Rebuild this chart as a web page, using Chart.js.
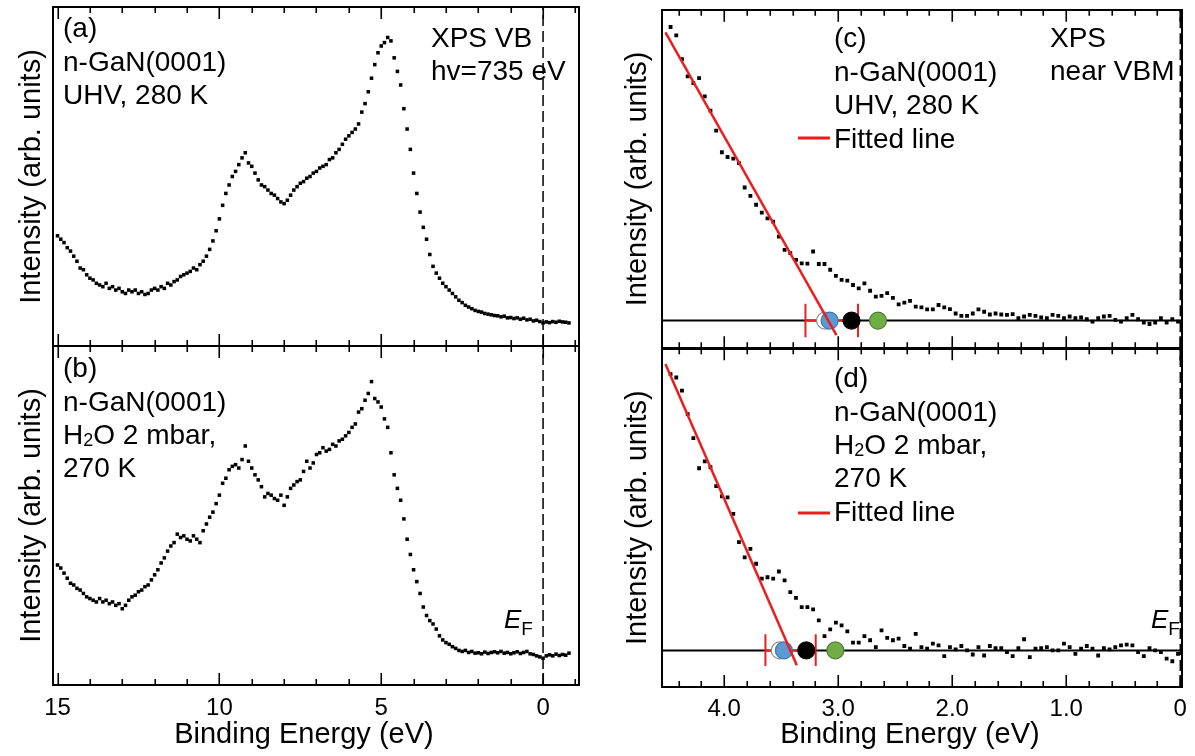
<!DOCTYPE html>
<html>
<head>
<meta charset="utf-8">
<script src="https://cdn.jsdelivr.net/npm/chart.js@4.4.1/dist/chart.umd.min.js"></script>
<style>
  html, body { margin: 0; padding: 0; background: #fff; }
  #wrap { position: relative; width: 1195px; height: 756px; overflow: hidden; }
  canvas { position: absolute; top: 0; }
  #left { left: 0; }
  #right { left: 600px; }
</style>
</head>
<body>
<div id="wrap">
  <canvas id="left" width="600" height="756"></canvas>
  <canvas id="right" width="595" height="756"></canvas>
</div>
<script>
// ---- wide valence band scans, panels (a) and (b) ----
const energyWide = [
  15.0, 14.9, 14.8, 14.7, 14.6, 14.5, 14.4, 14.3, 14.2, 14.1,
  14.0, 13.9, 13.8, 13.7, 13.6, 13.5, 13.4, 13.3, 13.2, 13.1,
  13.0, 12.9, 12.8, 12.7, 12.6, 12.5, 12.4, 12.3, 12.2, 12.1,
  12.0, 11.9, 11.8, 11.7, 11.6, 11.5, 11.4, 11.3, 11.2, 11.1,
  11.0, 10.9, 10.8, 10.7, 10.6, 10.5, 10.4, 10.3, 10.2, 10.1,
  10.0, 9.9, 9.8, 9.7, 9.6, 9.5, 9.4, 9.3, 9.2, 9.1,
  9.0, 8.9, 8.8, 8.7, 8.6, 8.5, 8.4, 8.3, 8.2, 8.1,
  8.0, 7.9, 7.8, 7.7, 7.6, 7.5, 7.4, 7.3, 7.2, 7.1,
  7.0, 6.9, 6.8, 6.7, 6.6, 6.5, 6.4, 6.3, 6.2, 6.1,
  6.0, 5.9, 5.8, 5.7, 5.6, 5.5, 5.4, 5.3, 5.2, 5.1,
  5.0, 4.9, 4.8, 4.7, 4.6, 4.5, 4.4, 4.3, 4.2, 4.1,
  4.0, 3.9, 3.8, 3.7, 3.6, 3.5, 3.4, 3.3, 3.2, 3.1,
  3.0, 2.9, 2.8, 2.7, 2.6, 2.5, 2.4, 2.3, 2.2, 2.1,
  2.0, 1.9, 1.8, 1.7, 1.6, 1.5, 1.4, 1.3, 1.2, 1.1,
  1.0, 0.9, 0.8, 0.7, 0.6, 0.5, 0.4, 0.3, 0.2, 0.1,
  0.0, -0.1, -0.2, -0.3, -0.4, -0.5, -0.6, -0.7, -0.8
];
const intensityUHV = [
  32.5, 31.5, 30.5, 29, 28, 26.5, 25, 23, 22.5, 21,
  20, 19.5, 18.5, 18, 17.5, 18.5, 17, 17.5, 16.5, 17,
  16, 15.5, 16.5, 16, 16.5, 15.5, 16, 15.2, 15.5, 16.5,
  17, 16.5, 17.5, 17, 18.5, 18, 19, 19.5, 20.5, 21,
  21.5, 22, 23, 22.5, 24, 25, 26.5, 28.5, 31, 34,
  37.5, 41.5, 45, 47.5, 50, 51.5, 53.5, 55.5, 57, 54,
  53, 51, 49, 47.5, 47, 46, 45, 44.5, 43.5, 42.5,
  42, 43, 44.5, 46, 47, 48, 48.5, 49.5, 50, 51,
  51.5, 52.5, 53, 53.5, 55, 55.5, 57, 58, 59.5, 61,
  62, 63, 64, 65.5, 69, 71.5, 75, 79, 83, 86.5,
  88.5, 89.5, 91, 90, 85, 81, 77, 70, 64, 58,
  51, 45, 39.5, 35, 31.5, 27, 23.5, 21.5, 20, 18.5,
  17.5, 16.5, 15.5, 14.5, 13.5, 12.8, 12, 11.5, 11, 10.5,
  10.2, 10, 9.6, 9.4, 9.2, 9, 8.9, 8.6, 8.8, 8.3,
  8.4, 8.1, 8.3, 7.9, 8.2, 7.7, 7.9, 7.4, 7.6, 7.2,
  6.8, 7.1, 6.9, 7.2, 7.0, 7.3, 7.1, 7.0, 6.8
];
const intensityH2O = [
  35.4, 34.5, 33, 31.5, 30, 29.5, 28.5, 28, 27, 26,
  25.5, 25, 24.5, 25.5, 24.5, 25, 24, 24.5, 23.5, 24,
  22.5, 23.5, 25, 26, 26.5, 27.5, 28, 29, 29.5, 31,
  32.5, 34, 36, 37.5, 39.5, 41, 42, 44.5, 43.5, 44,
  43, 42.5, 44, 43, 42, 45.5, 47.5, 49.5, 51, 53.5,
  56, 59.5, 61, 63.5, 64.5, 65, 64, 66.5, 70.5, 66,
  64, 62, 60.5, 58.5, 55.5, 56.5, 56, 55, 54.5, 56,
  53, 55.5, 58, 59, 60, 60.5, 63, 66, 64, 65.5,
  68, 68.5, 70, 69, 69.5, 71, 70.5, 72, 72.5, 73.5,
  74.5, 76, 77, 80.5, 81.5, 84, 86, 89.5, 84.5, 83.5,
  82, 78.5, 76, 68.5, 62, 58, 54.5, 49, 43, 38.5,
  34, 30.5, 27, 23, 20.5, 19, 18, 16.5, 14.5, 13.3,
  12.5, 12, 11.3, 10.8, 10.2, 9.9, 10.2, 9.6, 9.9, 9.4,
  9.5, 9.2, 9.7, 9.3, 9.6, 9.8, 9.5, 9.9, 9.4, 9.6,
  9.2, 9.5, 9.8, 9.3, 9.6, 9.9, 9.2, 9.0, 8.6, 8.3,
  7.9, 8.6, 8.9, 8.6, 9.1, 8.7, 9.0, 8.8, 9.4
];

// ---- near-VBM scans, panels (c) and (d) ----
const energyNear = [
  4.47, 4.42, 4.37, 4.32, 4.27, 4.22, 4.17, 4.12, 4.07, 4.02,
  3.97, 3.92, 3.87, 3.82, 3.77, 3.72, 3.67, 3.62, 3.57, 3.52,
  3.47, 3.42, 3.37, 3.32, 3.27, 3.22, 3.17, 3.12, 3.07, 3.02,
  2.97, 2.92, 2.87, 2.82, 2.77, 2.72, 2.67, 2.62, 2.57, 2.52,
  2.47, 2.42, 2.37, 2.32, 2.27, 2.22, 2.17, 2.12, 2.07, 2.02,
  1.97, 1.92, 1.87, 1.82, 1.77, 1.72, 1.67, 1.62, 1.57, 1.52,
  1.47, 1.42, 1.37, 1.32, 1.27, 1.22, 1.17, 1.12, 1.07, 1.02,
  0.97, 0.92, 0.87, 0.82, 0.77, 0.72, 0.67, 0.62, 0.57, 0.52,
  0.47, 0.42, 0.37, 0.32, 0.27, 0.22, 0.17, 0.12, 0.07, 0.02
];
const nearUHV = [
  94.9, 92.4, 85.4, 80.3, 78.3, 79.8, 74.4, 70.2, 64.3, 57.9,
  56.5, 56, 54.7, 47.5, 45, 42.4, 40.1, 38.4, 37.4, 33,
  29.1, 28.1, 26.1, 25.1, 25, 28.6, 24.9, 24.9, 23.2, 21.4,
  20.2, 20, 18.7, 17.7, 19.2, 17, 15.3, 15.5, 16.3, 14.9,
  13, 13.5, 14, 12.3, 12.1, 11.5, 11.5, 12.8, 12.1, 11.6,
  10.3, 9.6, 9.6, 10.3, 11.5, 10.8, 10, 10.3, 10, 9.9,
  10.1, 8.9, 9.4, 9.9, 9.6, 9.1, 8.9, 9.9, 9.6, 8.9,
  9.4, 8.9, 9.1, 8.6, 7.9, 8.9, 9.4, 9.6, 8.4, 7.9,
  8.9, 9.9, 8.6, 7.6, 7.2, 7.6, 8.9, 7.6, 8.6, 7.9
];
const nearH2O = [
  92.4, 91.4, 87.5, 80.6, 73.5, 64.6, 66.6, 64.9, 59.3, 56.3,
  56, 51.1, 42.8, 38.3, 40.8, 36.4, 32, 32.4, 32, 34.1,
  31.5, 28, 26.3, 23.6, 23.6, 22.9, 19.7, 15, 17, 19,
  18.2, 16.4, 13.1, 13.1, 15, 13.8, 11.8, 16.7, 14.5, 13.8,
  14.3, 12.1, 11.3, 15.7, 11.8, 11.3, 12.8, 12.3, 9.1, 11.8,
  11.1, 12.1, 10.8, 9.6, 11.8, 9.3, 12.1, 11.5, 11.5, 10.3,
  9.1, 11.5, 14.1, 8.8, 11.3, 11.5, 11.8, 10.8, 10.8, 12.8,
  11.8, 9.8, 11.3, 12.1, 11.3, 9.3, 11.5, 11.1, 11.8, 12.3,
  12.5, 12.3, 10.3, 9.1, 11.5, 10.8, 10.3, 8.4, 7.6, 9.8
];

// fitted lines (end points), baselines, VBM error bars and markers
const fitUHVx = [4.515, 3.015];
const fitUHVy = [93.3, 3.9];
const fitH2Ox = [4.515, 3.363];
const fitH2Oy = [95.4, 6.4];
const baselineUHV = 8.2;
const baselineH2O = 10.8;
const errUHV = [3.287, 2.826];
const errSpanUHV = [3.3, 13.2];
const errH2O = [3.638, 3.197];
const errSpanH2O = [6.2, 15.6];
const markersUHV = [3.115, 3.075, 2.883, 2.651];
const markersH2O = [3.512, 3.476, 3.28, 3.025];
const fermiLevel = 0;

// axis ranges and tick values
const wideRange = [-1.11, 15.14];
const nearRange = [-0.015, 4.545];
const wideMajor = [15, 10, 5, 0];
const wideMinor = [14, 13, 12, 11, 9, 8, 7, 6, 4, 3, 2, 1, -1];
const nearMajor = [4, 3, 2, 1, 0];
const nearMinor = [4.4, 4.2, 3.8, 3.6, 3.4, 3.2, 2.8, 2.6, 2.4, 2.2, 1.8, 1.6, 1.4, 1.2, 0.8, 0.6, 0.4, 0.2];

const FONT = "'Liberation Sans', Arial, Helvetica, sans-serif";
const RED = '#ee1d1d';
Chart.defaults.font.family = FONT;
Chart.defaults.color = '#000';

const pts = (xs, ys) => xs.map((x, i) => ({ x, y: ys[i] }));

function drawRich(ctx, x, y, parts) {
  let cx = x;
  parts.forEach(p => {
    const size = p.size || 28;
    ctx.font = (p.italic ? 'italic ' : '') + size + 'px ' + FONT;
    ctx.fillText(p.t, cx, y + (p.dy || 0));
    cx += ctx.measureText(p.t).width;
  });
}

// frames, inward ticks on top and bottom of each panel, annotations
const decor = {
  id: 'decor',
  afterDraw(chart, args, opts) {
    const { ctx, chartArea } = chart;
    const xs = chart.scales.x;
    ctx.save();
    ctx.strokeStyle = '#000';
    opts.panels.forEach(id => {
      const ys = chart.scales[id];
      const top = ys.top, bottom = ys.bottom;
      ctx.lineWidth = 1.6;
      ctx.beginPath();
      const tick = (v, len) => {
        const px = Math.round(xs.getPixelForValue(v)) + 0.25;
        ctx.moveTo(px, top); ctx.lineTo(px, top + len);
        ctx.moveTo(px, bottom); ctx.lineTo(px, bottom - len);
      };
      opts.major.forEach(v => tick(v, 12));
      opts.minor.forEach(v => tick(v, 6));
      ctx.stroke();
      ctx.lineWidth = 2;
      ctx.strokeRect(Math.round(chartArea.left), Math.round(top),
        Math.round(chartArea.right - chartArea.left), Math.round(bottom - top));
    });
    ctx.fillStyle = '#000';
    ctx.textAlign = 'left';
    ctx.textBaseline = 'alphabetic';
    opts.texts.forEach(t => drawRich(ctx, t.x, t.y, t.parts));
    (opts.keys || []).forEach(k => {
      ctx.strokeStyle = RED;
      ctx.lineWidth = 3;
      ctx.beginPath();
      ctx.moveTo(k.x0, k.y); ctx.lineTo(k.x1, k.y);
      ctx.stroke();
    });
    ctx.restore();
  }
};

function yAxis(titlePad, width) {
  return {
    type: 'linear', position: 'left', stack: 'col', stackWeight: 1,
    min: 0, max: 100,
    grid: { display: false, drawTicks: false },
    border: { display: false },
    ticks: { display: false },
    title: {
      display: true, text: 'Intensity (arb. units)', color: '#000',
      font: { family: FONT, size: 29 }, padding: { top: titlePad, bottom: 0 }
    },
    afterFit(s) { s.width = width; }
  };
}

function xAxis(range, step, pad, height, fmt) {
  return {
    type: 'linear', position: 'bottom', reverse: true,
    min: range[0], max: range[1],
    grid: { display: false, drawTicks: false },
    border: { display: false },
    ticks: {
      stepSize: step, includeBounds: false, padding: pad, color: '#000',
      maxRotation: 0, autoSkip: false, font: { family: FONT, size: 24 },
      callback: fmt
    },
    title: {
      display: true, text: 'Binding Energy (eV)\u00a0\u00a0\u00a0', color: '#000',
      font: { family: FONT, size: 29 }, padding: { top: 0, bottom: 4 }
    },
    afterFit(s) { s.height = height; }
  };
}

const dots = (data, yAxisID, r) => ({
  data, yAxisID, showLine: false, pointStyle: 'rect', pointRadius: r,
  pointBackgroundColor: '#000', pointBorderWidth: 0
});
const segment = (data, yAxisID, color, width, dash) => ({
  data, yAxisID, showLine: true, pointRadius: 0, borderColor: color,
  borderWidth: width, borderDash: dash || [], fill: false
});
const fermiLine = id => segment([{ x: fermiLevel, y: 0 }, { x: fermiLevel, y: 100 }], id, '#000', 1.5, [11, 5]);

const h2oLine = [{ t: 'H' }, { t: '2', size: 18, dy: 2 }, { t: 'O 2 mbar,' }];
const efLabel = [{ t: 'E', italic: true, size: 26 }, { t: 'F', size: 19, dy: 7 }];

new Chart(document.getElementById('left'), {
  type: 'scatter',
  data: {
    datasets: [
      dots(pts(energyWide, intensityUHV), 'ya', 2.5),
      dots(pts(energyWide, intensityH2O), 'yb', 2.5),
      fermiLine('ya'),
      fermiLine('yb')
    ]
  },
  options: {
    responsive: false, animation: false, events: [],
    layout: { padding: { left: 0, right: 21, top: 7, bottom: 0 } },
    plugins: {
      legend: { display: false }, tooltip: { enabled: false },
      decor: {
        panels: ['ya', 'yb'], major: wideMajor, minor: wideMinor,
        texts: [
          { x: 63, y: 37, parts: [{ t: '(a)' }] },
          { x: 63, y: 71, parts: [{ t: 'n-GaN(0001)' }] },
          { x: 63, y: 104, parts: [{ t: 'UHV, 280 K' }] },
          { x: 431, y: 47, parts: [{ t: 'XPS VB' }] },
          { x: 431, y: 80, parts: [{ t: 'hv=735 eV' }] },
          { x: 63, y: 377, parts: [{ t: '(b)' }] },
          { x: 63, y: 411, parts: [{ t: 'n-GaN(0001)' }] },
          { x: 63, y: 444, parts: h2oLine },
          { x: 63, y: 477, parts: [{ t: '270 K' }] },
          { x: 504, y: 628, parts: efLabel }
        ]
      }
    },
    scales: {
      x: xAxis(wideRange, 5, 9, 71, v => String(v)),
      yb: yAxis(15, 53),
      ya: yAxis(15, 53)
    }
  },
  plugins: [decor]
});

const circles = (xs, base, id) => ({
  data: xs.map(x => ({ x, y: base })), yAxisID: id, showLine: false,
  pointStyle: 'circle', pointRadius: 8.5, pointBorderWidth: 1.2,
  pointBackgroundColor: ['#ffffff', '#5b9bd5', '#000000', '#70ad47'],
  pointBorderColor: ['#8c8c8c', '#3d74ad', '#000000', '#4c7c30']
});
const errorBar = (ex, span, base, id) => [
  segment([{ x: ex[0], y: base }, { x: ex[1], y: base }], id, RED, 2),
  segment([{ x: ex[0], y: span[0] }, { x: ex[0], y: span[1] }], id, RED, 2),
  segment([{ x: ex[1], y: span[0] }, { x: ex[1], y: span[1] }], id, RED, 2)
];
const baseLine = (base, id) => segment([{ x: nearRange[1], y: base }, { x: nearRange[0], y: base }], id, '#000', 2);

new Chart(document.getElementById('right'), {
  type: 'scatter',
  data: {
    datasets: [
      segment(pts(fitUHVx, fitUHVy), 'yc', RED, 2.5),
      segment(pts(fitH2Ox, fitH2Oy), 'yd', RED, 2.5),
      circles(markersUHV, baselineUHV, 'yc'),
      circles(markersH2O, baselineH2O, 'yd'),
      ...errorBar(errUHV, errSpanUHV, baselineUHV, 'yc'),
      ...errorBar(errH2O, errSpanH2O, baselineH2O, 'yd'),
      dots(pts(energyNear, nearUHV), 'yc', 2.7),
      dots(pts(energyNear, nearH2O), 'yd', 2.7),
      baseLine(baselineUHV, 'yc'),
      baseLine(baselineH2O, 'yd'),
      fermiLine('yc'),
      fermiLine('yd')
    ]
  },
  options: {
    responsive: false, animation: false, events: [],
    layout: { padding: { left: 0, right: 10, top: 7, bottom: 0 } },
    plugins: {
      legend: { display: false }, tooltip: { enabled: false },
      decor: {
        panels: ['yc', 'yd'], major: nearMajor, minor: nearMinor,
        texts: [
          { x: 234, y: 47, parts: [{ t: '(c)' }] },
          { x: 234, y: 81, parts: [{ t: 'n-GaN(0001)' }] },
          { x: 234, y: 114, parts: [{ t: 'UHV, 280 K' }] },
          { x: 234, y: 148, parts: [{ t: 'Fitted line' }] },
          { x: 450, y: 47, parts: [{ t: 'XPS' }] },
          { x: 450, y: 80, parts: [{ t: 'near VBM' }] },
          { x: 234, y: 387, parts: [{ t: '(d)' }] },
          { x: 234, y: 421, parts: [{ t: 'n-GaN(0001)' }] },
          { x: 234, y: 454, parts: h2oLine },
          { x: 234, y: 487, parts: [{ t: '270 K' }] },
          { x: 234, y: 521, parts: [{ t: 'Fitted line' }] },
          { x: 551, y: 628, parts: efLabel }
        ],
        keys: [
          { x0: 198, x1: 230, y: 138 },
          { x0: 198, x1: 230, y: 513 }
        ]
      }
    },
    scales: {
      x: xAxis(nearRange, 1, 8, 69, v => (v === 0 ? '0' : v.toFixed(1))),
      yd: yAxis(21, 62),
      yc: yAxis(21, 62)
    }
  },
  plugins: [decor]
});
</script>
</body>
</html>
